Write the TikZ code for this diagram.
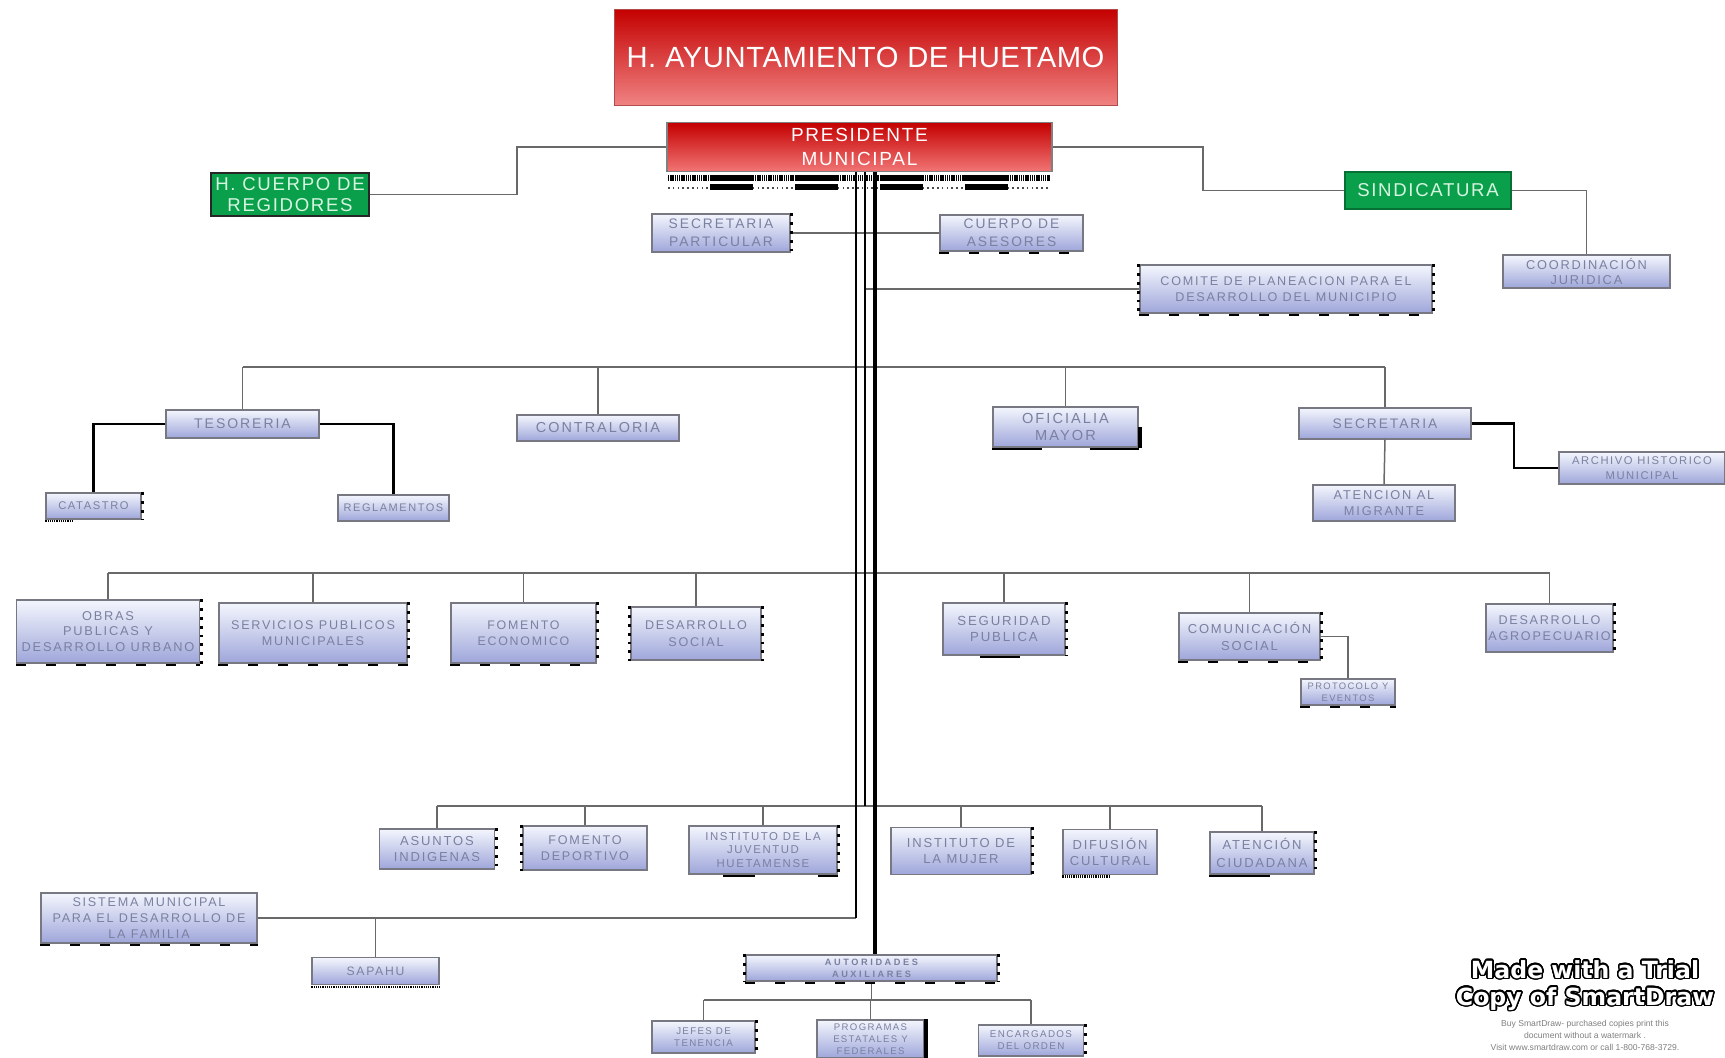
\documentclass[tikz,border=0pt]{standalone}
\usepackage{fontspec}
\setmainfont{Liberation Sans}
\newfontfamily\bxf[LetterSpace=14]{Liberation Sans}
\newfontfamily\hdf[LetterSpace=9]{Liberation Sans}
\newfontfamily\tlf[LetterSpace=2]{Liberation Sans}
\newfontfamily\auf[LetterSpace=28]{Liberation Sans}
\newfontfamily\wmf{DejaVu Sans}
\usepackage[copies]{contour}
\contourlength{0.8pt}
\contournumber{24}
\definecolor{boxtop}{RGB}{244,246,253}
\definecolor{boxbot}{RGB}{158,166,218}
\definecolor{bordc}{RGB}{120,120,130}
\definecolor{boxtxt}{RGB}{122,128,160}
\definecolor{conc}{RGB}{105,105,105}
\definecolor{greenc}{RGB}{10,160,75}
\definecolor{greentxt}{RGB}{215,245,225}
\definecolor{redtop}{RGB}{196,0,0}
\definecolor{redbot}{RGB}{240,130,130}
\begin{document}
\begin{tikzpicture}[x=0.5pt,y=-0.5pt,
  sz/.style 2 args={minimum width=#1*0.5pt, minimum height=#2*0.5pt},
  fs/.style 2 args={font=\bxf\fontsize{#1}{#2}\selectfont},
  ob/.style={draw=bordc, line width=0.6pt, top color=boxtop, bottom color=boxbot,
     text=boxtxt, align=center, inner sep=0pt, fs={6.5}{8}},
  titlebox/.style={top color=redtop, bottom color=redbot, draw=red!40!gray, line width=0.4pt,
     text=white, inner sep=0pt, font=\tlf\fontsize{14.6}{18}\selectfont},
  presbox/.style={top color=redtop, bottom color=redbot!90!red, draw=gray, line width=0.6pt,
     text=white, align=center, inner sep=0pt, font=\hdf\fontsize{9.5}{12}\selectfont},
  greenbox/.style={fill=greenc, draw=greenc!70!black, line width=0.8pt, text=greentxt,
     align=center, inner sep=0pt, font=\hdf\fontsize{9.3}{10.5}\selectfont},
  conn/.style={draw=conc, line width=0.75pt},
  bconn/.style={draw=black, line width=1.3pt},
  trunk/.style={draw=black, line width=1pt},
  thtrunk/.style={draw=black, line width=2pt},
  artR/.style={draw=black, line width=1.5pt, dash pattern=on 1.4pt off 3pt},
  artB/.style={draw=black, line width=1.3pt, dash pattern=on 5pt off 10pt},
  artb/.style={draw=black, line width=1.2pt, dash pattern=on 0.6pt off 0.5pt}
]
\useasboundingbox (0,0) rectangle (1725,1057);
\fill[white] (0,0) rectangle (1725,1057);

% ---- top ----
\node[titlebox, sz={503}{96}] (title) at (865.5,57) {H. AYUNTAMIENTO DE HUETAMO};
\node[presbox, sz={385}{49}] (pres) at (859.5,147) {PRESIDENTE\\MUNICIPAL};

% decorative strip under presidente
\foreach \i in {0,...,8}{
  \pgfmathsetmacro{\xa}{668+\i*42.44}
  \pgfmathsetmacro{\xb}{668+(\i+1)*42.44}
  \ifodd\i
    \fill[black] (\xa,175) rectangle (\xb,181);
    \fill[black] (\xa,184) rectangle (\xb,190);
  \else
    \draw[black, line width=2.6pt, dash pattern=on 0.7pt off 0.4pt] (\xa,178) -- (\xb,178);
    \draw[black!70, line width=0.8pt, dash pattern=on 0.8pt off 1.6pt] (\xa,188) -- (\xb,188);
  \fi
}

\node[greenbox, draw=black!85, sz={158}{43}] (reg) at (290,194.5) {H. CUERPO DE\\REGIDORES};
\node[greenbox, sz={166}{37}] (sind) at (1428,190.5) {SINDICATURA};
\node[ob, sz={167}{33}, fs={6.4}{7.7}] (coord) at (1586.5,271.5) {COORDINACIÓN\\JURIDICA};

\node[ob, sz={138}{38}, fs={6.9}{8.8}] (secp) at (721,233) {SECRETARIA\\PARTICULAR};
\node[ob, sz={143}{36}, fs={6.9}{8.8}] (ases) at (1011.5,233) {CUERPO DE\\ASESORES};
\node[ob, sz={292}{48}, fs={6.3}{7.7}] (comite) at (1286,289) {COMITE DE PLANEACION PARA EL\\DESARROLLO DEL MUNICIPIO};

% ---- row 1 ----
\node[ob, sz={153}{28}, fs={7}{8}] (tes) at (242.5,424) {TESORERIA};
\node[ob, sz={162}{26}, fs={7.2}{8}] (cont) at (598,428) {CONTRALORIA};
\node[ob, sz={145}{40}, fs={7.3}{8.8}] (ofi) at (1065.5,427) {OFICIALIA\\MAYOR};
\node[ob, sz={172}{31}, fs={6.9}{8}] (sec) at (1385,423.5) {SECRETARIA};
\node[ob, sz={95}{26}, fs={5.6}{7}] (cat) at (93.5,506) {CATASTRO};
\node[ob, sz={111}{26}, fs={5.5}{7}] (regl) at (393.5,508) {REGLAMENTOS};
\node[ob, sz={142}{36}, fs={6.4}{8.2}] (mig) at (1384,503) {ATENCION AL\\MIGRANTE};
\node[ob, sz={166}{32}, fs={5.6}{7.2}] (arch) at (1642,468) {ARCHIVO HISTORICO\\MUNICIPAL};

% ---- row 2 ----
\node[ob, sz={183}{63}, fs={6.4}{7.7}] (obras) at (108,631.5) {OBRAS\\PUBLICAS Y\\DESARROLLO URBANO};
\node[ob, sz={188}{60}, fs={6.3}{7.7}] (serv) at (313,633) {SERVICIOS PUBLICOS\\MUNICIPALES};
\node[ob, sz={145}{60}, fs={6.2}{8.2}] (fome) at (523.5,633) {FOMENTO\\ECONOMICO};
\node[ob, sz={130}{53}, fs={6.3}{8.2}] (dsoc) at (696,633.5) {DESARROLLO\\SOCIAL};
\node[ob, sz={122}{52}, fs={6.6}{8.2}] (seg) at (1004,629) {SEGURIDAD\\PUBLICA};
\node[ob, sz={141}{47}, fs={6.5}{8.2}] (com) at (1249.5,636.5) {COMUNICACIÓN\\SOCIAL};
\node[ob, sz={127}{48}, fs={6.3}{7.7}] (agro) at (1549.5,628) {DESARROLLO\\AGROPECUARIO};
\node[ob, sz={94}{26}, fs={4.7}{6}] (prot) at (1348,692) {PROTOCOLO Y\\EVENTOS};

% ---- row 3 ----
\node[ob, sz={114.5}{40}, fs={6.5}{8.2}] (asu) at (437,849) {ASUNTOS\\INDIGENAS};
\node[ob, sz={124}{44}, fs={6.3}{8.2}] (fdep) at (585,848) {FOMENTO\\DEPORTIVO};
\node[ob, sz={148}{48}, fs={5.7}{6.6}] (ijuv) at (763,850) {INSTITUTO DE LA\\JUVENTUD\\HUETAMENSE};
\node[ob, sz={140}{47}, fs={6.5}{8.2}] (muj) at (961,851) {INSTITUTO DE\\LA MUJER};
\node[ob, sz={94}{45}, fs={6.5}{8.2}] (dif) at (1110,852) {DIFUSIÓN\\CULTURAL};
\node[ob, sz={104}{42}, fs={6.5}{8.8}] (aten) at (1262,853) {ATENCIÓN\\CIUDADANA};

% ---- bottom ----
\node[ob, sz={216}{50}, fs={6.3}{8.2}] (sist) at (149,918) {SISTEMA MUNICIPAL\\PARA EL DESARROLLO DE\\LA FAMILIA};
\node[ob, sz={127}{27}, fs={6.1}{7}] (sap) at (375.5,971) {SAPAHU};
\node[ob, sz={251}{26}, font=\auf\bfseries\fontsize{4.6}{6}\selectfont] (aut) at (871.5,968) {AUTORIDADES\\AUXILIARES};
\node[ob, sz={103}{32}, fs={4.85}{6}] (jef) at (703.5,1037) {JEFES DE\\TENENCIA};
\node[ob, sz={107}{38}, fs={4.8}{6}] (prog) at (870.5,1039) {PROGRAMAS\\ESTATALES Y\\FEDERALES};
\node[ob, sz={105.5}{31}, fs={4.9}{6}] (enc) at (1031,1040.5) {ENCARGADOS\\DEL ORDEN};

% ---- coordinates ----
\coordinate (tA) at (856,172);
\coordinate (tB) at (865,172);
\coordinate (tC) at (875,172);
\coordinate (b1) at (0,367);
\coordinate (b2) at (0,573);
\coordinate (b3) at (0,806);
\coordinate (b4) at (0,1000);

% ---- connectors ----
\draw[conn] (pres.west) -- (517,147) |- (reg.east);
\draw[conn] (pres.east) -- (1203,147) |- (sind.west);
\draw[conn] (sind.east) -| (coord.north);
\draw[conn] (secp.east) -- (secp.east -| ases.west);
\draw[conn] (tB |- comite.west) -- (comite.west);

\draw[conn] (tes.north |- b1) -- (sec.north |- b1);
\foreach \n in {tes,cont,ofi,sec} \draw[conn] (\n.north) -- (\n.north |- b1);
\draw[bconn] (tes.west) -| (cat.north);
\draw[bconn] (tes.east) -| (regl.north);
\draw[conn] (sec.south) -- (mig.north);
\draw[bconn] (sec.east) -- (1514,423.5) |- (arch.west);

\draw[conn] (obras.north |- b2) -- (agro.north |- b2);
\foreach \n in {obras,serv,fome,dsoc,seg,com,agro} \draw[conn] (\n.north) -- (\n.north |- b2);
\draw[conn] (com.east) -| (prot.north);

\draw[conn] (asu.north |- b3) -- (aten.north |- b3);
\foreach \n in {asu,fdep,ijuv,muj,dif,aten} \draw[conn] (\n.north) -- (\n.north |- b3);

\draw[conn] (sist.east) -- (tA |- sist.east);
\draw[conn] (sap.north) -- (sap.north |- sist.east);

\draw[conn] (aut.south) -- (aut.south |- b4);
\draw[conn] (jef.north |- b4) -- (enc.north |- b4);
\foreach \n in {jef,prog,enc} \draw[conn] (\n.north) -- (\n.north |- b4);

% trunk
\draw[trunk] (tA) -- (tA |- sist.east);
\draw[trunk] (tB) -- (tB |- b3);
\draw[thtrunk] (tC) -- (tC |- aut.north);

% ---- edge artifacts ----
\foreach \n in {secp,cat,obras,serv,fome,dsoc,seg,com,agro,asu,ijuv,muj,aten,jef,enc,comite,aut}
  \draw[artR] ([xshift=0.6pt]\n.north east) -- ([xshift=0.6pt]\n.south east);
\foreach \n in {dsoc,fdep,comite,aut}
  \draw[artR] ([xshift=-0.6pt]\n.north west) -- ([xshift=-0.6pt]\n.south west);
\foreach \n in {ases,comite,obras,serv,fome,com,prot,sist,aut}
  \draw[artB] ([yshift=-0.7pt]\n.south west) -- ([yshift=-0.7pt]\n.south east);
\draw[artb] ([yshift=-0.8pt]cat.south west) -- ([yshift=-0.8pt,xshift=-10pt]cat.south);
\draw[artb] ([yshift=-0.8pt]sap.south west) -- ([yshift=-0.8pt]sap.south east);
\draw[black, line width=1.3pt] ([yshift=-0.7pt]ofi.south west) -- ([yshift=-0.7pt,xshift=-12pt]ofi.south);
\draw[black, line width=1.3pt] ([yshift=-0.7pt,xshift=12pt]ofi.south) -- ([yshift=-0.7pt]ofi.south east);
\draw[black, line width=1.8pt] ([xshift=0.8pt]ofi.east) -- ([xshift=0.8pt]ofi.south east);
\draw[black, line width=1.3pt] ([yshift=-0.7pt,xshift=-12pt]seg.south) -- ([yshift=-0.7pt,xshift=8pt]seg.south);
\draw[black, line width=1.3pt] ([yshift=-0.7pt,xshift=-20pt]ijuv.south) -- ([yshift=-0.7pt,xshift=-4pt]ijuv.south);
\draw[black, line width=1.3pt] ([yshift=-0.7pt,xshift=-10pt]ijuv.south east) -- ([yshift=-0.7pt]ijuv.south east);
\draw[black, line width=1.3pt] ([yshift=-0.7pt]aten.south west) -- ([yshift=-0.7pt,xshift=4pt]aten.south);
\draw[artb] ([yshift=-0.7pt]dif.south west) -- ([yshift=-0.7pt]dif.south);
\draw[black, line width=1.8pt] ([xshift=0.8pt]prog.north east) -- ([xshift=0.8pt]prog.south east);

% ---- watermark ----
\node[font=\wmf\bfseries\fontsize{11.8}{13.5}\selectfont, align=center, inner sep=0pt] (wm) at (1585,986)
  {\contour{black}{\textcolor{white}{Made with a Trial}}\\\contour{black}{\textcolor{white}{Copy of SmartDraw}}};
\node[font=\fontsize{4.3}{6}\selectfont, text=gray, align=center, inner sep=0pt] (wm2) at (1585,1035)
  {Buy SmartDraw- purchased copies print this\\document without a watermark .\\Visit www.smartdraw.com or call 1-800-768-3729.};
\end{tikzpicture}
\end{document}
